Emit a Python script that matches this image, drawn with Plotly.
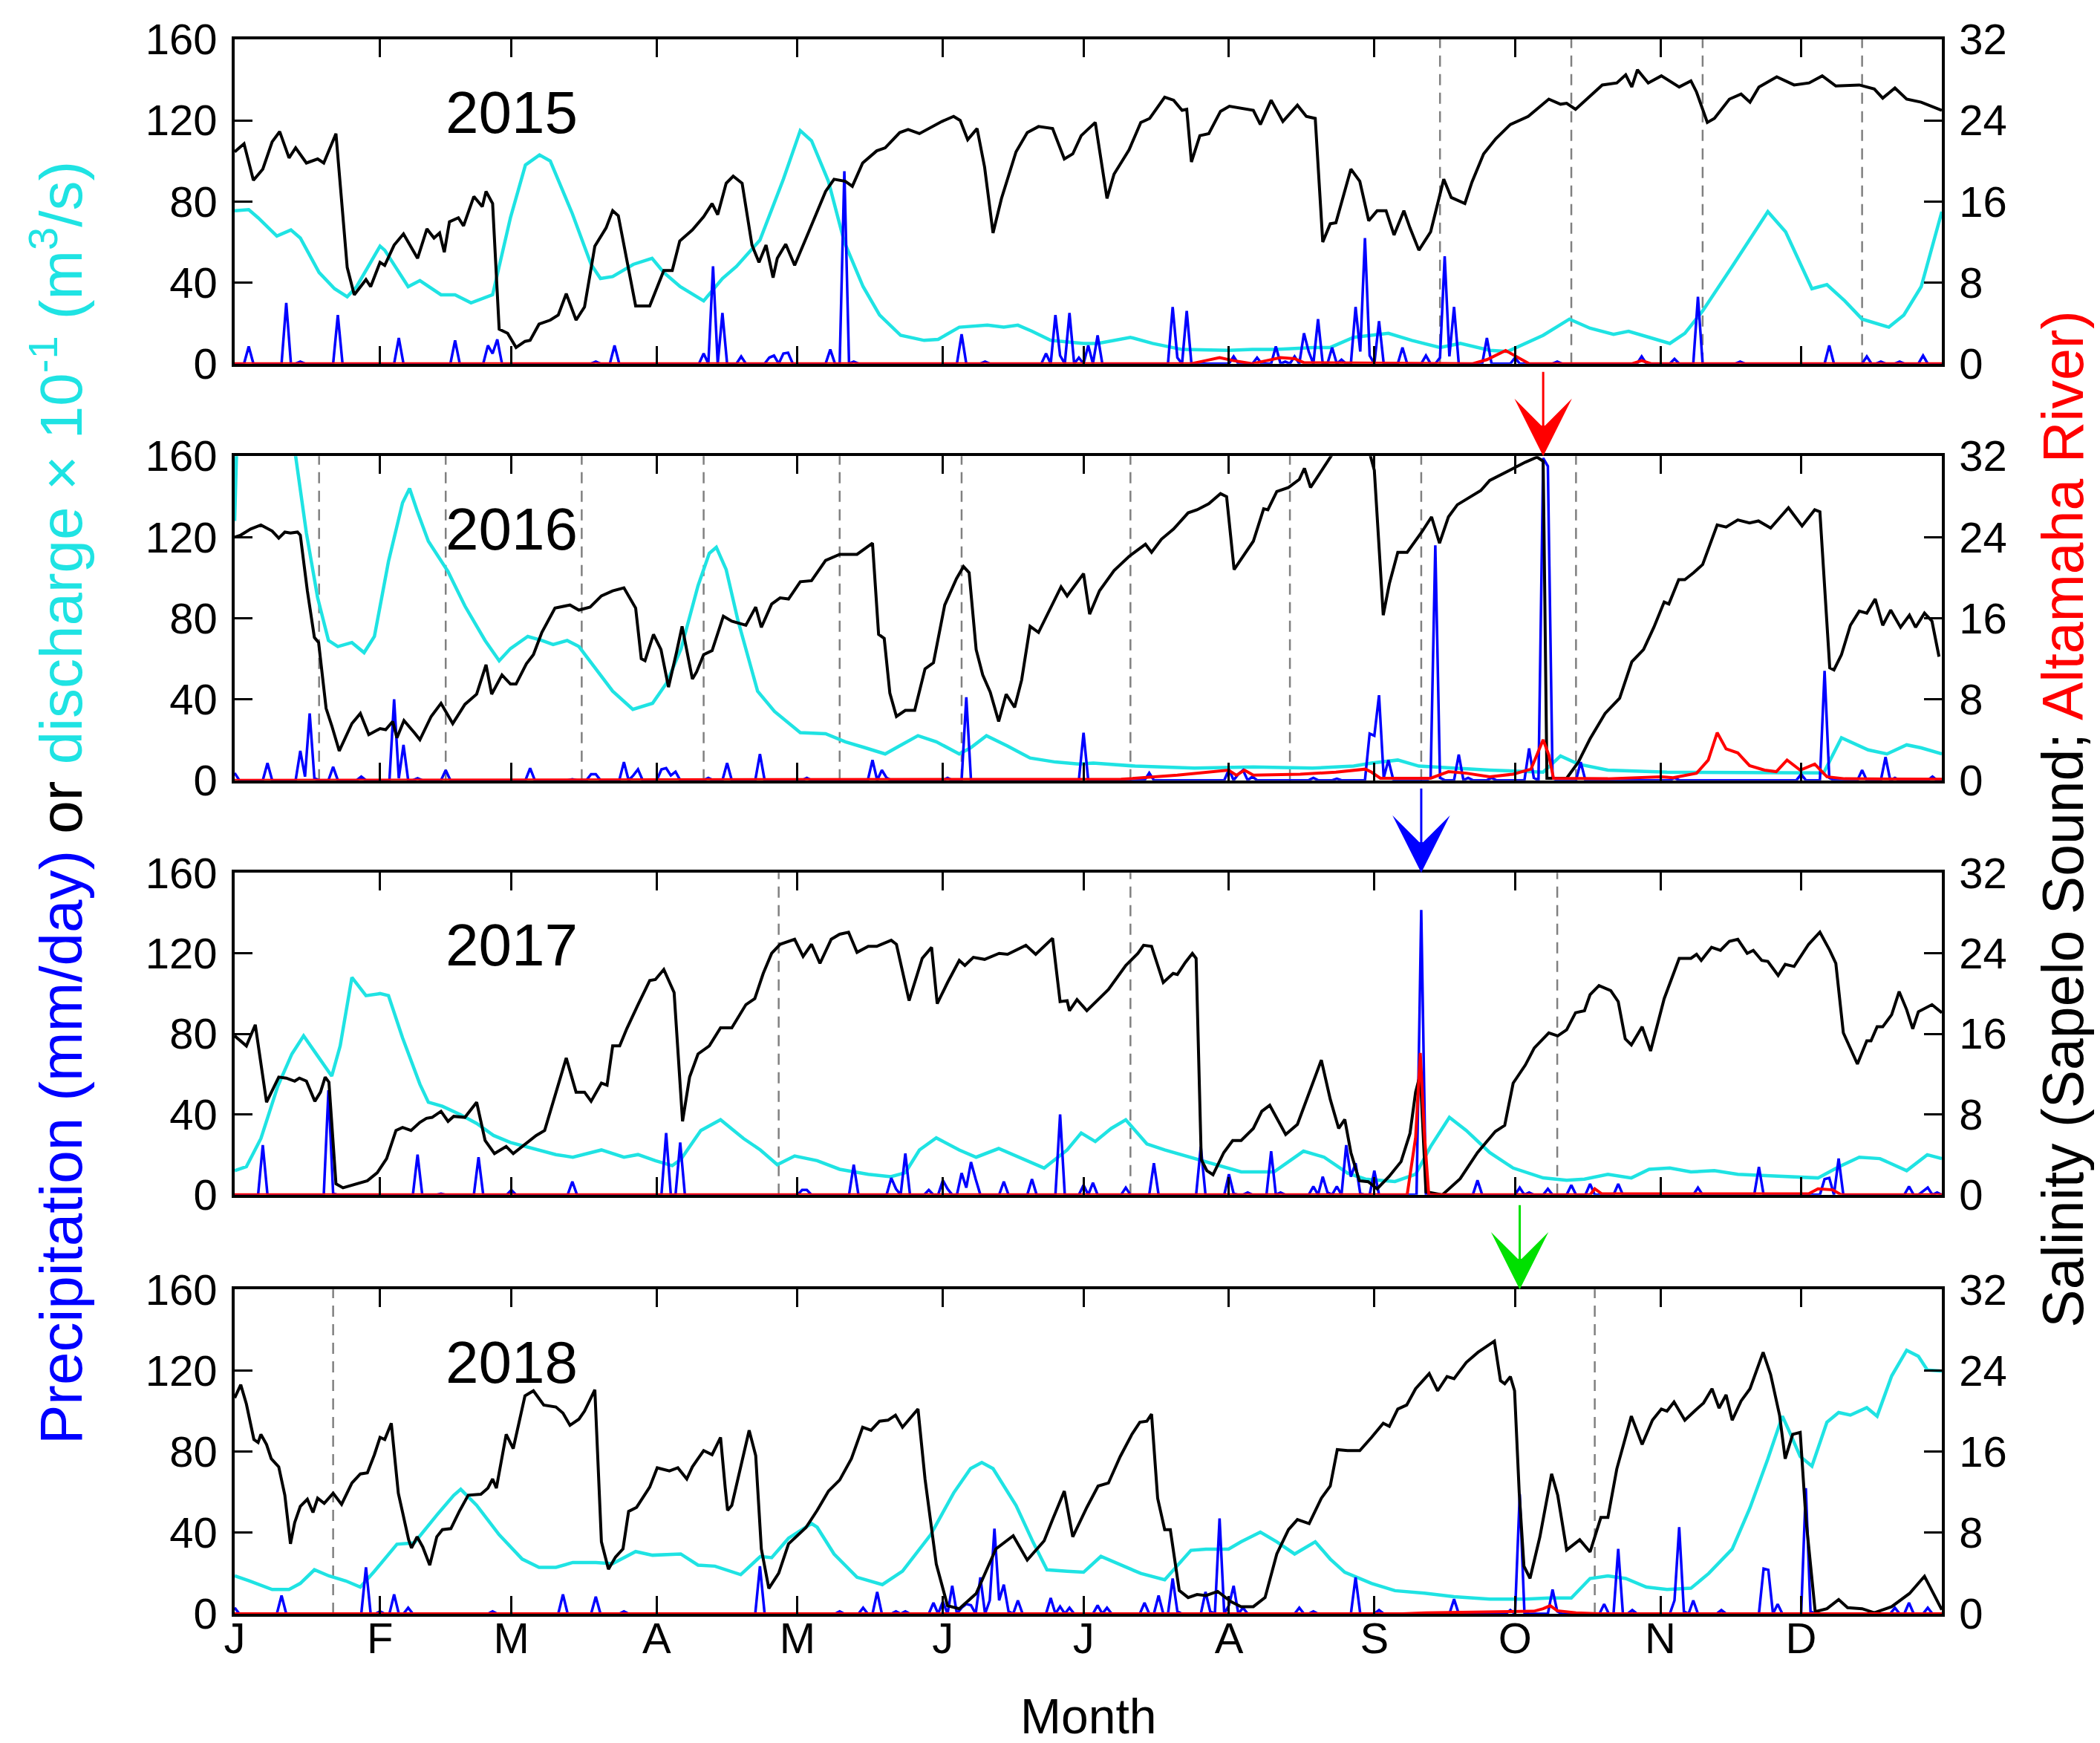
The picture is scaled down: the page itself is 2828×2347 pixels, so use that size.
import plotly.graph_objects as go
from plotly.subplots import make_subplots

# ---------------- data ----------------
years = [2015, 2016, 2017, 2018]
month_days = [1, 32, 60, 91, 121, 152, 182, 213, 244, 274, 305, 335]
month_labels = ["J", "F", "M", "A", "M", "J", "J", "A", "S", "O", "N", "D"]

# salinity at Sapelo Sound (PSU), (day of year, value)
sal_2015 = [(1,20.9),(3,21.7),(5,18.1),(7,19.2),(9,21.9),(10.6,22.9),(12.6,20.3),(14,21.3),(16.3,19.8),(18.7,20.2),(20,19.8),(22.6,22.7),(25,9.5),(26.5,6.8),(29,8.3),(30,7.6),(32,10.0),(33,9.7),(35,11.7),(37,12.8),(40,10.4),(42,13.3),(43.5,12.4),(44.7,12.9),(45.7,11.0),(46.8,14.0),(48.7,14.4),(49.8,13.6),(52,16.5),(53.8,15.5),(54.6,17.0),(56,15.8),(57.4,3.4),(59.2,3.0),(61,1.6),(62.9,2.2),(64,2.3),(65.9,3.9),(68.3,4.3),(70,4.8),(71.7,6.9),(73.8,4.3),(75.6,5.6),(77.8,11.6),(80.2,13.4),(81.6,15.1),(82.8,14.6),(86.5,5.7),(89.5,5.7),(92.5,9.2),(94.3,9.2),(95.9,12.1),(98.6,13.2),(101,14.5),(102.8,15.8),(104,14.7),(105.8,17.8),(107.3,18.5),(109.2,17.8),(111.3,11.7),(112.8,10.0),(114.3,11.7),(115.8,8.5),(116.7,10.4),(118.5,11.8),(120.4,9.7),(123.4,13.0),(127,17.0),(128.8,18.2),(131.2,18.0),(132.7,17.5),(134.9,19.8),(137.9,21.0),(139.7,21.3),(142.8,22.8),(144.6,23.1),(147,22.7),(150,23.4),(151.8,23.9),(154.3,24.4),(155.7,24.0),(157.3,22.1),(159.3,23.2),(160.9,19.4),(162.7,12.9),(164.5,16.3),(167.6,20.9),(170,22.8),(172.4,23.4),(175.4,23.2),(177.9,20.2),(179.7,20.7),(181.5,22.5),(184.5,23.8),(187,16.3),(188.5,18.7),(191.7,21.1),(194.2,23.8),(196.1,24.2),(199.3,26.3),(201.2,26.0),(203,25.0),(204,25.1),(205,19.9),(206.8,22.5),(208.7,22.7),(211.2,24.9),(213.1,25.4),(216.9,25.1),(218.2,25.0),(219.7,23.6),(222,26.0),(224.5,23.9),(227.6,25.5),(229.5,24.4),(231.4,24.2),(233,12.0),(234.6,13.8),(235.8,13.9),(239,19.2),(240.9,18.0),(242.8,14.1),(244.6,15.1),(246.5,15.1),(248.2,12.7),(250.3,15.1),(251.6,13.4),(253.5,11.2),(256,13.0),(258.8,18.2),(260.4,16.4),(263.3,15.8),(264.8,17.9),(267.3,20.7),(269.9,22.2),(273,23.6),(276.8,24.4),(278.7,25.1),(281.2,26.1),(283.7,25.6),(285,25.7),(286.9,25.1),(290,26.4),(292.6,27.5),(295.7,27.7),(297.6,28.5),(298.9,27.3),(300.1,29.0),(302.4,27.7),(305.2,28.4),(309,27.3),(311.5,27.9),(312.7,26.8),(315,23.8),(316.5,24.2),(319.7,26.1),(322.2,26.6),(324.1,25.8),(326,27.3),(329.8,28.3),(333.5,27.5),(336.7,27.7),(339.5,28.4),(342.4,27.4),(347.4,27.5),(350.6,27.1),(352.4,26.2),(355,27.2),(357.5,26.1),(360.6,25.8),(365,25.0)]
sal_2016 = [(1,24.0),(2.3,24.2),(4.4,24.8),(6.6,25.2),(9,24.6),(10.4,23.9),(11.7,24.5),(12.9,24.4),(14.4,24.5),(15,24.2),(16.5,18.7),(18,14.1),(18.9,13.6),(20.5,7.1),(21.7,5.4),(23.3,2.9),(26,5.6),(27.8,6.6),(29.6,4.5),(32,5.1),(33.2,5.0),(34.7,5.8),(35.6,4.2),(37.1,5.9),(39.3,4.7),(40.5,4.0),(42.9,6.3),(45,7.6),(47.5,5.6),(50.1,7.5),(52.6,8.5),(54.6,11.4),(55.8,8.5),(58,10.4),(59.8,9.5),(61,9.5),(63.2,11.5),(64.7,12.4),(66.5,14.6),(69.3,17.0),(72.5,17.3),(74.4,16.8),(76.8,17.1),(79.2,18.2),(81.6,18.7),(84,19.0),(86.5,17.0),(87.7,12.0),(88.5,11.8),(90.3,14.4),(91.9,12.9),(93.5,9.2),(95.2,12.6),(96.4,15.2),(98.6,10.0),(99.5,10.7),(101,12.4),(102.8,12.8),(105.2,16.2),(107,15.7),(110,15.3),(112.1,17.1),(113.3,15.1),(115.5,17.4),(117.3,18.0),(119.1,17.9),(121.6,19.6),(124,19.7),(127,21.7),(130,22.3),(133.7,22.3),(137,23.4),(138.3,14.4),(139.5,14.0),(140.7,8.6),(142.1,6.3),(144,6.9),(146,6.9),(148.2,11.0),(150,11.6),(152.4,17.3),(154.9,19.9),(156.4,21.1),(157.6,20.5),(159.1,12.9),(160.5,10.4),(162.1,8.7),(163.9,5.8),(165.5,8.5),(167.3,7.2),(168.8,9.9),(170.6,15.2),(172.4,14.6),(174.8,16.8),(177.2,19.1),(178.5,18.2),(182,20.4),(183.3,16.4),(185.4,18.7),(188.5,20.7),(191.7,22.1),(195.2,23.3),(196.5,22.5),(198.6,23.8),(201.2,24.8),(204.3,26.4),(206.2,26.7),(208.7,27.3),(211.2,28.3),(212.5,28.0),(214.1,20.8),(216.3,22.3),(218.2,23.6),(220.4,26.8),(221.3,26.7),(223.2,28.5),(225.7,28.9),(228,29.7),(229.1,30.8),(230.4,28.9),(232.7,30.6),(235.2,32.3),(243,32.3),(244,30.6),(245.9,16.3),(247.2,19.4),(249,22.5),(251,22.5),(254.1,24.5),(256.2,26.0),(257.9,23.4),(259.8,26.0),(261.7,27.2),(264.2,27.9),(266.7,28.6),(268.6,29.6),(271.1,30.2),(273.6,30.8),(276.2,31.4),(278.7,31.9),(280,31.5),(280.8,0.2),(285,0.2),(287.5,1.8),(290,4.1),(293.2,6.6),(294.4,7.2),(296.3,8.1),(298.9,11.7),(301.4,12.9),(303.6,15.1),(305.8,17.6),(306.8,17.4),(308.9,19.8),(310.2,19.8),(312.1,20.5),(314,21.3),(317.1,25.2),(319,25.0),(321.5,25.7),(324,25.4),(325.9,25.6),(328.5,24.9),(332.3,26.9),(335.2,25.1),(337.9,26.7),(339,26.5),(341.1,11.1),(342,10.9),(343.6,12.4),(345.5,15.3),(347.4,16.7),(349,16.5),(350.8,17.9),(352.4,15.3),(354.1,16.8),(356.2,15.1),(358.1,16.3),(359.4,15.1),(361.3,16.5),(362.9,15.7),(364.4,12.2)]
sal_2017 = [(1,15.8),(3.5,14.8),(5.4,16.9),(7.8,9.2),(10.4,11.7),(12,11.6),(13.8,11.3),(14.8,11.6),(16.3,11.3),(18.1,9.3),(19.3,10.2),(20.3,11.7),(21.1,11.2),(22.6,1.1),(24.1,0.7),(26.5,1.0),(29.3,1.4),(31.4,2.2),(33.4,3.6),(35.4,6.4),(36.8,6.7),(38.6,6.4),(40.5,7.2),(41.9,7.6),(43.1,7.7),(45,8.3),(46.5,7.3),(47.7,7.8),(50.1,7.7),(52.6,9.2),(54.4,5.4),(56.4,4.1),(58.9,4.8),(60.4,4.1),(62.3,4.8),(65.3,5.9),(67.1,6.4),(69.5,10.2),(71.7,13.6),(73.8,10.2),(75.6,10.2),(77,9.3),(79.2,11.1),(80.4,10.9),(81.6,14.8),(83.1,14.8),(84.6,16.5),(87,18.9),(89.5,21.3),(90.7,21.4),(92.5,22.4),(94.7,20.1),(96.5,7.3),(98,11.7),(99.8,14.0),(102.2,14.8),(104.6,16.6),(107,16.6),(110,18.9),(111.9,19.5),(113.7,22.0),(115.5,24.0),(117.3,24.9),(120.4,25.4),(122.2,23.7),(124,24.9),(125.8,23.0),(128.2,25.4),(130,25.9),(131.9,26.1),(133.7,24.1),(136.1,24.7),(137.9,24.7),(141,25.3),(142.1,24.9),(144.8,19.3),(147.6,23.5),(149.6,24.6),(150.8,19.0),(153,21.1),(155.5,23.3),(156.7,22.8),(158.5,23.6),(160.9,23.4),(164,24.0),(165.8,23.9),(169.7,24.8),(171.8,23.9),(175.4,25.5),(177,19.2),(178.5,19.3),(179,18.3),(180.6,19.4),(182.7,18.3),(187.3,20.4),(191,22.8),(193.6,24.0),(194.8,24.8),(196.5,24.7),(199,21.1),(201.1,22.0),(202,21.9),(203.7,23.1),(205.2,24.0),(206,23.5),(207.1,3.5),(208.3,2.4),(209.6,2.0),(211.9,4.2),(213.8,5.4),(215.6,5.4),(218.2,6.6),(220,8.3),(221.7,8.9),(223.2,7.6),(225.1,6.0),(227.6,7.0),(230.1,10.2),(232.7,13.4),(234.6,9.5),(236.4,6.6),(237.7,7.5),(239,4.2),(240.8,1.4),(242.7,1.3),(244.6,0.6),(247.1,1.8),(249.7,3.3),(251.6,6.1),(252.8,10.2),(253.8,12.0),(255,0.3),(258.5,0),(262.3,1.6),(266,4.2),(269.8,6.3),(271.8,6.9),(273.6,11.1),(276.2,12.9),(278.1,14.6),(281.2,16.1),(283.1,15.8),(285,16.4),(286.9,18.1),(288.8,18.3),(290,19.9),(291.9,20.8),(294.4,20.3),(296,19.2),(297.5,15.5),(298.8,14.9),(301.1,16.7),(302.9,14.3),(305.8,19.5),(309,23.5),(311.5,23.5),(312.7,23.9),(313.7,23.3),(315.9,24.6),(317.8,24.3),(319.7,25.2),(321.5,25.4),(323.5,24.0),(324.8,24.3),(326.6,23.3),(327.9,23.2),(330.1,21.8),(331.6,22.9),(333.5,22.7),(336.6,24.9),(339,26.1),(341.1,24.3),(342.4,23.0),(344,16.1),(347,13.0),(349,15.3),(349.9,15.3),(351.2,16.7),(352.4,16.7),(354.3,17.9),(355.9,20.2),(357.5,18.4),(358.8,16.5),(360,18.2),(362.9,18.9),(365,18.1)]
sal_2018 = [(1,21.3),(2.3,22.6),(3.5,20.7),(5.1,17.2),(6,16.9),(6.6,17.7),(7.8,16.7),(8.8,15.3),(10.4,14.5),(11.7,11.7),(12.9,6.9),(13.8,9.0),(15,10.6),(16.5,11.3),(17.7,10.0),(18.7,11.4),(20.1,10.9),(22,11.9),(23.8,10.8),(26,12.9),(27.8,13.8),(29.3,13.9),(30.8,15.7),(32,17.4),(33,17.2),(34.4,18.8),(35.9,11.9),(38.1,7.3),(38.7,6.5),(39.9,7.6),(41.1,6.6),(42.6,4.8),(44.1,7.6),(45.3,8.3),(47.1,8.4),(48.9,10.1),(50.8,11.7),(53.5,11.8),(55,12.4),(56,13.3),(56.8,12.4),(58.9,17.7),(60.4,16.3),(62.9,21.5),(64.7,22.0),(66.9,20.6),(69.5,20.4),(71,19.8),(72.5,18.6),(74.4,19.2),(75.6,20.0),(77.8,22.1),(79.2,7.1),(80.7,4.4),(82.2,5.6),(83.8,6.4),(85,10.1),(86.7,10.5),(89.5,12.5),(91.1,14.4),(93.7,14.1),(95.5,14.4),(97.4,13.3),(98.6,14.5),(99.8,15.3),(101,16.1),(102.8,15.7),(104.6,17.4),(105.6,12.4),(106.1,10.2),(107,10.7),(108.9,14.5),(110.7,18.1),(112.1,15.6),(113.3,6.4),(114.9,2.5),(117,4.0),(119.1,6.9),(122.8,8.5),(125.2,10.2),(127.6,12.1),(130,13.2),(132.5,15.3),(134.9,18.4),(136.7,18.1),(138.5,19.0),(140.3,19.1),(141.9,19.6),(143.4,18.4),(146.7,20.2),(148.2,13.3),(150.6,4.9),(153,0.8),(155.5,0.5),(159.1,2.0),(163.3,6.4),(167,7.7),(170,5.3),(173.6,7.2),(175.4,9.3),(177.9,12.1),(179.7,7.6),(182.7,10.5),(185.1,12.6),(187.3,12.9),(189.8,15.5),(192.3,17.7),(194,18.9),(195.5,19.0),(196.5,19.7),(197.8,11.4),(199.3,8.3),(200.5,8.3),(202.4,2.3),(204.3,1.6),(206.2,1.9),(208.1,1.8),(210.6,2.2),(213.4,1.2),(215.6,0.7),(218.2,0.7),(220.7,1.6),(223.2,5.9),(225.7,8.3),(227.6,9.3),(230.1,8.9),(232.7,11.4),(234.6,12.6),(236.1,16.2),(238.3,16.1),(240.9,16.1),(243.4,17.4),(245.9,18.8),(247.2,18.5),(249,20.2),(250.9,20.6),(252.8,22.2),(255.7,23.7),(257.5,22.0),(259.5,23.4),(261,23.2),(263.6,24.8),(266.1,25.8),(269.6,26.9),(270.9,23.0),(271.8,22.7),(273,23.4),(273.9,22.0),(274.9,11.9),(275.9,4.7),(277.2,3.5),(279.3,7.6),(281.8,13.8),(283.1,11.7),(285,6.3),(287.8,7.3),(290,6.1),(292.3,9.5),(293.8,9.5),(295.7,14.3),(297.3,16.9),(298.8,19.5),(301.1,16.7),(303.3,19.1),(305.2,20.2),(306.4,20.0),(307.9,20.9),(310.2,19.1),(312.5,20.1),(314.2,20.8),(316,22.2),(317.5,20.3),(319,21.6),(320.3,19.1),(322.2,21.0),(324.1,22.2),(326.9,25.8),(328.5,23.6),(330.4,19.6),(331.6,15.3),(333.2,17.7),(334.8,17.9),(336,9.5),(338,0.2),(340.5,0.5),(343,1.4),(344.9,0.6),(348,0.5),(350.6,0.1),(354.3,0.7),(358.1,2.0),(361.3,3.7),(363.2,2.0),(365,0.4)]

# river discharge x 0.1 (m3/s)
q_2015 = [(1,75.5),(4,76),(6,72),(10,63),(13,66),(15,62),(19,45),(22.3,37),(25,33),(27,38),(32,58),(33,56),(38,38),(40.5,41),(45,34),(48,34),(51.4,30),(56,34),(59.8,72),(63,98),(66,103),(68.3,100),(73,74),(77,49),(79,42),(81.6,43),(86,49),(90,52),(92.5,45),(96,38),(101,31),(105,42),(108,48),(113,61),(118,91),(121.6,115),(124,110),(127.6,90),(131,60),(135,38),(138.5,24),(143,14),(148,11.5),(151,12),(155.5,18),(161.5,19),(165,18),(168,19),(171,16),(175,11.5),(182,10),(185,10),(192,13),(196.7,10),(203,7),(213,6.6),(218,7),(223,7),(231,8),(234.6,8),(239.6,13),(247,15),(252,11.5),(258,8),(262.3,10),(268.6,6.6),(272.4,6),(280,14),(285.6,22),(290,17.5),(295,14.5),(298.2,16),(302.6,13),(307,10),(310.2,15),(314,26),(320.3,48),(327.9,75),(331.7,65),(337.3,37),(340.5,39),(344.3,31),(348,22),(353.7,18),(356.9,24),(360.6,38),(365,75)]
q_2016 = [(1,128),(1.5,170),(13,170),(14,160),(16.3,122),(18.7,90),(21,69),(23,66),(26,68),(28.6,63),(30.8,71),(33.8,108),(36.8,137),(38.3,144),(39.9,133),(42.3,118),(46.5,103),(50.1,86),(54.4,69),(57.4,59),(59.8,65),(63.5,71),(66.5,69),(68.9,67),(71.9,69),(74.4,66),(78,55),(81.6,44),(85.9,35),(90.1,38),(93.1,48),(96.2,65),(99.8,96),(102.2,112),(103.7,115),(105.8,104),(108.3,79),(112.5,44),(116.1,34),(121.6,23.5),(127,23),(131.2,19),(135.5,16),(139.7,13),(142.8,17),(146.7,22),(150.6,19),(155.5,13),(157.9,16),(161.3,22),(165.7,17),(170.6,11),(176,9),(180.9,8),(184.1,8.5),(193,7),(205.6,6),(218.2,6.6),(230.8,6),(239.6,7),(243.4,8.5),(249,10),(253.5,7),(261,6),(268.6,5),(280,4),(283.7,12),(287.5,8),(293.8,5),(306.4,4),(319,4),(331.6,4),(339.8,3.6),(343.6,21),(349.3,15),(353.3,13),(357.5,17.5),(360.6,16),(365,13)]
q_2017 = [(1,12),(3.5,14),(6.6,28),(10.2,54),(13.2,70),(15.7,79),(18.7,69),(21.7,59),(23.5,74),(26,108),(29,99),(32,100),(33.8,99),(36.8,78),(40.5,55),(42.3,46),(45.3,44),(49,40),(52.6,35.5),(56.2,29.5),(59.8,26),(64.7,23),(69.5,20),(73.1,18.7),(79.2,22.3),(84,18.7),(87,20),(90.7,17),(94.3,14.5),(96.1,17.5),(100.4,32),(104.6,37.3),(109.5,28),(113.1,22.3),(116.7,15),(120.4,19.3),(125.2,17),(130,12.7),(136.1,10.2),(140.9,9),(144,11),(147,22.3),(150.6,28.3),(155.5,22.3),(159.1,18.7),(163.9,23),(168.8,18),(173.6,13.3),(178.5,22.3),(181.5,30.7),(184.5,26.5),(187.9,33),(191,37.3),(195.5,25.3),(199.3,22.3),(205.6,18),(210.6,14.5),(215.6,11.4),(222.6,11.4),(228.9,21.7),(233.3,18.7),(238.3,10.8),(242.1,7.8),(248.4,6.6),(252.8,10.2),(256,24),(260,38.5),(263.6,32),(268.6,21),(273.6,13.3),(280,8.4),(285,7.2),(288.8,7.8),(293.8,10.2),(298.8,8.4),(302.6,12.7),(307,13.3),(311.5,11.4),(316.5,12),(321.5,10.2),(326.6,9.6),(331.6,9),(338.6,8.4),(343,13.9),(347.4,18.7),(351.8,18),(357.5,12),(361.9,19.9),(365,18)]
q_2018 = [(1,18.7),(4.2,16.2),(9,12),(12.6,12),(15,15),(18,21.7),(21.1,18.7),(24.7,16.2),(27.8,13.2),(30.8,21),(35.6,34.3),(39.3,35),(44.1,48.7),(47.7,58.4),(49.2,61.4),(52.6,53.5),(57.4,39),(62.3,27),(65.9,22.9),(69.5,22.9),(73.1,25.3),(78,25.3),(81.6,24.7),(86.5,30.7),(90.1,28.9),(96.1,29.5),(99.8,24),(103.4,23.5),(108.9,19.3),(113.1,28.3),(115.5,27.7),(119.1,37.3),(124,44.5),(125.2,42.7),(128.8,29.5),(133.7,18),(139.1,14.4),(143.4,21),(149.4,39),(154.3,59.6),(157.9,71.6),(160.3,74.6),(162.7,71.6),(167.6,53.5),(171.2,35.5),(174.2,21.7),(178.5,21),(182,20.5),(185.7,28.3),(190.4,23.5),(194.2,19.9),(199.3,16.8),(201.8,23.5),(204.9,31.3),(208.1,31.9),(212.9,31.9),(215.6,35.5),(219.7,40.3),(223.2,35.5),(227,29.5),(231.4,35.5),(234.6,27),(237.7,20.5),(243.4,15),(248.4,11.4),(254.7,10.2),(261,8.4),(268.6,7.2),(276.2,7.2),(281.2,7.8),(286,7.8),(290,17.4),(293.8,18.7),(297.6,17.4),(302,13.2),(306.4,12),(311.5,12.6),(315.3,19.9),(320.3,31.9),(324.1,52.3),(327.9,76.4),(331,97.5),(332.3,90.9),(334.8,77.6),(337.3,72.8),(340.5,94.5),(343,99.3),(345.5,98),(349,101.7),(351.2,97.5),(354.3,117.3),(357.5,130),(360,127),(361.9,120.3),(365,119.7)]

# daily precipitation (mm/day), rainy days only
rain_2015 = [(4,8.5),(12,30),(15,1),(23,24),(36,12.7),(48,11.5),(55,9),(56,5),(57,12),(78,1),(82,9),(101,5),(103,48),(105,25),(109,3.6),(115,3),(116,4),(118,5),(119,5.4),(128,7),(131,95),(133,1),(156,14.5),(161,1),(174,5),(176,24),(177,4),(179,25),(181,3),(183,9),(185,14),(201,28),(202,3),(204,26),(214,3.6),(219,3),(223,8.5),(225,1),(227,3.6),(229,15),(230,6),(232,22),(235,8),(237,2),(240,28),(241,6),(242,62),(243,4),(245,21),(250,8),(255,4),(258,3),(259,53),(260,3.6),(261,28),(268,12.7),(274,3),(283,1),(301,3.6),(308,2.4),(313,33),(322,1),(341,9),(349,3.6),(352,1),(356,1),(361,4)]
rain_2016 = [(1,3.6),(8,8.5),(15,14.5),(16,1.8),(17,33),(18,1),(22,6.6),(28,1.8),(35,40),(36,1),(37,17.5),(40,1),(46,5),(64,6),(73,0.5),(77,3),(78,3),(84,9),(86,2.4),(87,5.4),(92,5.4),(93,6),(94,2.4),(95,4.2),(102,1.2),(106,8.5),(113,13),(123,1.2),(137,10),(139,5),(140,1.2),(153,1.2),(157,41),(182,23.5),(196,3.6),(213,5.4),(215,3),(216,5),(218,1.8),(231,1.2),(236,0.8),(243,23),(244,22),(245,42),(246,1.2),(247,10),(248,0.6),(256,1.2),(257,116),(258,1.2),(262,12.7),(264,1.2),(269,1.2),(277,15.7),(278,1.2),(280,159),(281,155),(282,1.2),(288,9),(308,1.2),(335,3),(340,54),(341,1.2),(348,5),(353,11.5),(355,1.2),(363,1.8)]
rain_2017 = [(7,24.7),(21,52),(22,0.6),(40,20),(45,0.6),(53,18.7),(60,2.4),(73,6.6),(93,30.7),(96,26),(122,2.4),(123,2.4),(133,15),(141,8.4),(142,3),(144,20.5),(149,2.4),(152,7.2),(153,3),(156,10.8),(157,3.6),(158,16.3),(159,7.8),(165,6.6),(171,7.8),(177,40),(182,4.8),(184,6),(191,3.6),(197,15.7),(207,24),(213,10.2),(214,0.6),(217,1.2),(222,21.7),(224,1.2),(231,4.2),(233,9),(234,1.2),(236,4.2),(238,24.7),(239,9),(240,15.7),(241,0.6),(244,12),(254,141.6),(266,7.2),(275,3.6),(277,1.2),(281,3),(286,4.8),(290,5.4),(296,5.4),(313,3.6),(326,13.9),(340,7.8),(341,8.4),(343,18),(358,4.2),(361,1.8),(362,3.6),(364,1.2)]
rain_2018 = [(1,3),(11,9),(29,22.9),(32,1.2),(35,9.6),(38,3),(56,1.2),(71,9.6),(78,8.4),(84,1.2),(113,23.5),(130,1.2),(135,3),(138,10.8),(142,1.2),(144,1.2),(150,5.4),(152,6),(154,13.8),(156,3),(157,4.8),(158,4.2),(160,18),(162,6.6),(163,42),(164,6.6),(165,14.4),(166,1.2),(168,6.6),(175,7.8),(177,3.6),(179,3),(185,4.2),(187,3),(195,5.4),(198,9),(201,17.4),(202,1.2),(208,10.8),(209,1.2),(211,47),(213,4.2),(214,13.8),(216,3),(228,3),(231,1.2),(240,18),(245,1.8),(261,7.2),(273,1.8),(275,59),(276,0.6),(282,12),(283,1.2),(293,4.8),(296,32),(299,1.8),(308,6.6),(309,42.7),(310,1.2),(312,6.6),(318,1.8),(327,22.3),(328,21.7),(330,4.8),(336,62),(337,1.2),(355,3),(358,5.4),(362,3)]

# salinity in the Altamaha River (PSU)
alt_2015 = [(1,0),(205,0),(208,0.3),(211,0.6),(214,0.3),(218,0),(221,0.3),(224,0.6),(227,0.5),(229,0.1),(265,0),(268,0.4),(272,1.3),(275,0.5),(277,0),(299,0),(301,0.3),(303,0),(365,0)]
alt_2016 = [(1,0),(190,0.1),(202,0.5),(205.6,0.65),(212.9,1.0),(214.6,0.5),(216.3,1.0),(218.2,0.5),(228.2,0.6),(235.8,0.8),(242.1,1.1),(243.4,0.8),(245.3,0.2),(256,0.2),(259.8,0.85),(263.6,0.7),(268.6,0.35),(273.6,0.6),(277.4,1.1),(280,4.0),(281.2,2.5),(282.2,0.2),(293.8,0.15),(305.2,0.35),(307.7,0.25),(312.7,0.7),(315.2,2.0),(317.1,4.7),(319,3.1),(321.5,2.7),(324,1.45),(327.2,1.0),(329.7,0.85),(332,2.0),(334.8,1.0),(337.9,1.6),(340.5,0.35),(344.3,0.15),(365,0.1)]
alt_2017 = [(1,0),(251,0),(252.8,5.7),(253.8,14.1),(254.7,5.9),(255.6,0),(290,0),(291,0.6),(292.5,0.1),(336.6,0.1),(338.6,0.6),(341.7,0.5),(343.6,0),(365,0)]
alt_2018 = [(1,0),(250,0),(255,0.1),(265,0.15),(272,0.2),(278,0.25),(280,0.5),(281.5,0.8),(283,0.3),(287,0.1),(292,0),(365,0)]

# dashed reference days per year
dash_2015 = [258, 286, 314, 348]
dash_2016 = [19, 46, 75, 101, 130, 156, 192, 226, 254, 287]
dash_2017 = [117, 192, 283]
dash_2018 = [22, 291]

# arrows between panels: day, year of the panel below, colour
arrow_days = [280, 254, 275]
arrow_years = [2016, 2017, 2018]
arrow_colors = ["#FF0000", "#0000FF", "#00E000"]

sal = {2015: sal_2015, 2016: sal_2016, 2017: sal_2017, 2018: sal_2018}
flow = {2015: q_2015, 2016: q_2016, 2017: q_2017, 2018: q_2018}
rain = {2015: rain_2015, 2016: rain_2016, 2017: rain_2017, 2018: rain_2018}
alt = {2015: alt_2015, 2016: alt_2016, 2017: alt_2017, 2018: alt_2018}
dashes = {2015: dash_2015, 2016: dash_2016, 2017: dash_2017, 2018: dash_2018}

CYAN = "#1FE3E3"
FONT = "Liberation Sans, Arial, sans-serif"


def xy(pairs):
    return [p[0] for p in pairs], [p[1] for p in pairs]


def daily(spikes):
    vals = [0.0] * 365
    for d, v in spikes:
        vals[int(d) - 1] = max(vals[int(d) - 1], v)
    return list(range(1, 366)), vals


fig = make_subplots(rows=4, cols=1, specs=[[{"secondary_y": True}]] * 4,
                    vertical_spacing=0.06)

domains = [[0.794, 1.0], [0.5294, 0.7353], [0.2661, 0.4706], [0.0, 0.206]]
tick_font = dict(size=58, family=FONT, color="black")

for i, yr in enumerate(years):
    r = i + 1
    x, y = xy(flow[yr])
    fig.add_trace(go.Scatter(x=x, y=y, mode="lines", line=dict(color=CYAN, width=4.5),
                             hoverinfo="skip"), row=r, col=1, secondary_y=False)
    x, y = daily(rain[yr])
    fig.add_trace(go.Scatter(x=x, y=y, mode="lines", line=dict(color="#0000FF", width=3.5),
                             hoverinfo="skip"), row=r, col=1, secondary_y=False)
    x, y = xy(sal[yr])
    fig.add_trace(go.Scatter(x=x, y=y, mode="lines", line=dict(color="black", width=4),
                             hoverinfo="skip"), row=r, col=1, secondary_y=True)
    x, y = xy(alt[yr])
    fig.add_trace(go.Scatter(x=x, y=y, mode="lines", line=dict(color="#FF0000", width=4),
                             hoverinfo="skip"), row=r, col=1, secondary_y=True)

    xname = "x" if i == 0 else f"x{r}"
    yname = "y" if i == 0 else f"y{2 * i + 1}"

    fig.update_xaxes(row=r, col=1, domain=[0, 1], range=[1, 365],
                     tickvals=month_days, ticktext=month_labels,
                     ticks="inside", ticklen=24, tickwidth=3, tickcolor="black",
                     showline=True, linewidth=3.5, linecolor="black", mirror="ticks",
                     showgrid=False, zeroline=False, showticklabels=(r == 4),
                     tickfont=tick_font, ticklabelstandoff=-20)
    fig.update_yaxes(row=r, col=1, secondary_y=False, range=[0, 160],
                     tickvals=[0, 40, 80, 120, 160], domain=domains[i],
                     ticks="inside", ticklen=24, tickwidth=3, tickcolor="black",
                     showline=True, linewidth=3.5, linecolor="black",
                     showgrid=False, zeroline=False, tickfont=tick_font,
                     ticklabelstandoff=8)
    fig.update_yaxes(row=r, col=1, secondary_y=True, range=[0, 32],
                     tickvals=[0, 8, 16, 24, 32],
                     ticks="inside", ticklen=24, tickwidth=3, tickcolor="black",
                     showline=True, linewidth=3.5, linecolor="black",
                     showgrid=False, zeroline=False, tickfont=tick_font,
                     ticklabelstandoff=8)

    for d in dashes[yr]:
        fig.add_shape(type="line", xref=xname, yref=f"{yname} domain", x0=d, x1=d, y0=0, y1=1,
                      line=dict(color="#808080", width=2.5, dash="15px,10px"), layer="below")

    fig.add_annotation(xref=xname, yref=yname, x=60, y=124, text=str(yr), showarrow=False,
                       font=dict(size=80, family=FONT, color="black"))

# arrows pointing at the top of the lower panel
for d, yr, c in zip(arrow_days, arrow_years, arrow_colors):
    i = years.index(yr)
    fig.add_annotation(xref=f"x{i + 1}", yref="paper", x=d, y=domains[i][1],
                       ax=0, ay=-115, text="", showarrow=True, arrowhead=3,
                       arrowsize=4.3, arrowwidth=3, arrowcolor=c, standoff=0)

left_title = ('<span style="color:#0000FF">Precipitation (mm/day)</span> or '
              f'<span style="color:{CYAN}">discharge × 10<sup>-1</sup> (m<sup>3</sup>/s)</span>')
right_title = 'Salinity (Sapelo Sound; <span style="color:#FF0000">Altamaha River)</span>'

fig.add_annotation(xref="paper", yref="paper", x=-0.104, y=0.515, text=left_title,
                   textangle=-90, showarrow=False, xanchor="center", yanchor="middle",
                   font=dict(size=80, family=FONT, color="black"))
fig.add_annotation(xref="paper", yref="paper", x=1.071, y=0.505, text=right_title,
                   textangle=-90, showarrow=False, xanchor="center", yanchor="middle",
                   font=dict(size=77, family=FONT, color="black"))
fig.add_annotation(xref="paper", yref="paper", x=0.5, y=-0.065, text="Month",
                   showarrow=False, xanchor="center", yanchor="middle",
                   font=dict(size=66, family=FONT, color="black"))

# the page body adds an 8 px offset, so margins are shifted back by that amount
fig.update_layout(width=2828, height=2347, showlegend=False,
                  plot_bgcolor="white", paper_bgcolor="white",
                  margin=dict(l=308, r=221, t=19, b=182),
                  font=dict(family=FONT, color="black"))

fig.write_html("out.html")
